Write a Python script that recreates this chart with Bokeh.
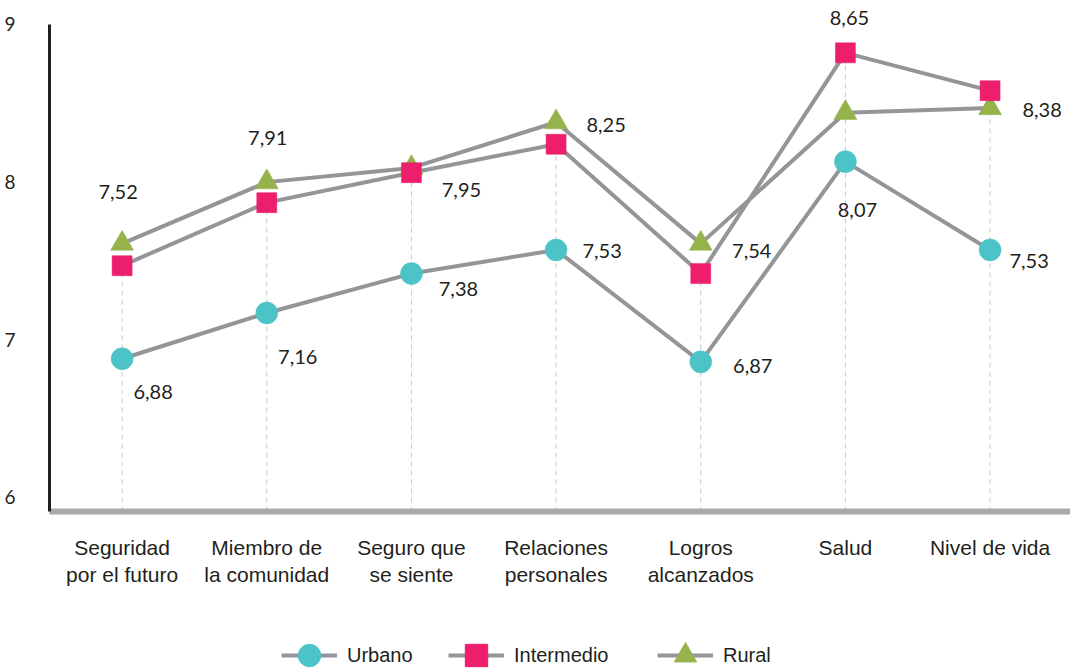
from bokeh.plotting import figure
from bokeh.layouts import column
from bokeh.models import Range1d, Legend, LegendItem, ColumnDataSource, FixedTicker
from bokeh.core.properties import value
from bokeh.embed import file_html
from bokeh.resources import INLINE

# ---------------- data ----------------
categories = ["Seguridad\npor el futuro", "Miembro de\nla comunidad", "Seguro que\nse siente",
              "Relaciones\npersonales", "Logros\nalcanzados", "Salud", "Nivel de vida"]
urbano = [6.88, 7.17, 7.42, 7.57, 6.86, 8.13, 7.57]
intermedio = [7.47, 7.87, 8.06, 8.24, 7.42, 8.82, 8.58]
rural = [7.61, 8.00, 8.09, 8.38, 7.61, 8.44, 8.47]
labels_upper = ["7,52", "7,91", "7,95", "8,25", "7,54", "8,65", "8,38"]
labels_lower = ["6,88", "7,16", "7,38", "7,53", "6,87", "8,07", "7,53"]
y_ticks = [6, 7, 8, 9]
series_names = ["Urbano", "Intermedio", "Rural"]

# ---------------- layout / style ----------------
upper_dx = [-4, 1, 50, 50, 51, 4, 52]
upper_dy = [-74, -65, 17, -19, -23, -35, 19]
lower_dx = [31, 31, 47, 46, 52, 12, 39]
lower_dy = [33, 44, 15, 1, 4, 48, 11]

TEAL = "#4CC3C7"
MAGENTA = "#ED1E6C"
GREEN = "#96B24B"
GRAY = "#939598"
DASH = "#C8C9CB"
TXT = "#231F20"
NUM_FONT = "Lato"
CAT_FONT = "Liberation Sans"

W = 1070
MAIN_H = 600
LEG_H = 68
Y0, Y1 = 5.911, 9.152
xs = list(range(len(categories)))

p = figure(width=W, height=MAIN_H, x_range=Range1d(-0.502, 6.556), y_range=Range1d(Y0, Y1),
           output_backend="svg", toolbar_location=None,
           min_border_left=49, min_border_right=0, min_border_top=0, min_border_bottom=MAIN_H - 511)
p.outline_line_color = None
p.xgrid.visible = False
p.ygrid.visible = False

# axes
p.xaxis.ticker = FixedTicker(ticks=xs)
p.xaxis.major_label_overrides = {i: c for i, c in enumerate(categories)}
p.xaxis.axis_line_color = "#A7A9AC"
p.xaxis.axis_line_width = 6
p.xaxis.major_tick_line_color = None
p.xaxis.minor_tick_line_color = None
p.xaxis.major_label_standoff = 18
p.xaxis.major_label_text_font = CAT_FONT
p.xaxis.major_label_text_font_size = "21px"
p.xaxis.major_label_text_color = TXT

p.yaxis.ticker = FixedTicker(ticks=y_ticks)
p.yaxis.bounds = (Y0, 9)
p.yaxis.axis_line_color = TXT
p.yaxis.axis_line_width = 3
p.yaxis.major_tick_line_color = None
p.yaxis.minor_tick_line_color = None
p.yaxis.major_label_standoff = 28
p.yaxis.major_label_text_font = NUM_FONT
p.yaxis.major_label_text_font_size = "19px"
p.yaxis.major_label_text_color = TXT

# drop lines
p.segment(x0=xs, y0=[Y0] * len(xs), x1=xs, y1=intermedio,
          line_color=DASH, line_width=1, line_dash="5 4")

# lines
p.line(xs, urbano, line_color=GRAY, line_width=4, line_join="round")
p.line(xs, intermedio, line_color=GRAY, line_width=4, line_join="round")
p.line(xs, rural, line_color=GRAY, line_width=4, line_join="round")

# markers (intermedio on top)
p.scatter(xs, urbano, marker="circle", size=22, fill_color=TEAL, line_color=TEAL, line_width=0.5)
p.scatter(xs, rural, marker="triangle", size=23, fill_color=GREEN, line_color=GREEN, line_width=0.5)
p.scatter(xs, intermedio, marker="square", size=20, fill_color=MAGENTA, line_color=MAGENTA, line_width=0.5)

# value labels
src_u = ColumnDataSource(dict(x=xs, y=intermedio, t=labels_upper, dx=upper_dx, dy=upper_dy))
src_l = ColumnDataSource(dict(x=xs, y=urbano, t=labels_lower, dx=lower_dx, dy=lower_dy))
for src in (src_u, src_l):
    p.text(x="x", y="y", text="t", x_offset="dx", y_offset="dy", source=src,
           text_font=value(NUM_FONT), text_font_size="20px", text_color=TXT,
           text_align="center", text_baseline="middle")

# ---------------- legend strip ----------------
lf = figure(width=W, height=LEG_H, x_range=Range1d(0, 1), y_range=Range1d(0, 1),
            output_backend="svg", toolbar_location=None, x_axis_type=None, y_axis_type=None,
            min_border_left=0, min_border_right=0, min_border_top=0, min_border_bottom=0)
lf.outline_line_color = None
lf.xgrid.visible = False
lf.ygrid.visible = False

# proxy renderers (kept outside the visible range) that only feed the legend glyphs
proxy_x = [-5, -4]
proxy_y = [-5, -5]
leg_styles = [("circle", TEAL, 22), ("square", MAGENTA, 20), ("triangle", GREEN, 23)]
leg_x = [232, 399, 608]
leg_y = -15
for name, (mk, col, sz), lx in zip(series_names, leg_styles, leg_x):
    r_line = lf.line(proxy_x, proxy_y, line_color=GRAY, line_width=4)
    r_mark = lf.scatter(proxy_x, proxy_y, marker=mk, size=sz, fill_color=col, line_color=col)
    lg = Legend(items=[LegendItem(label=name, renderers=[r_line, r_mark])], location=(lx, leg_y),
                orientation="horizontal", glyph_width=56, glyph_height=56,
                label_standoff=10, padding=0, margin=0, spacing=0,
                border_line_color=None, background_fill_alpha=0,
                label_text_font=CAT_FONT, label_text_font_size="20px",
                label_text_color=TXT, label_text_baseline="middle")
    lf.add_layout(lg, "center")

layout = column(p, lf, spacing=0)
open("out.html", "w").write(file_html(layout, INLINE))
